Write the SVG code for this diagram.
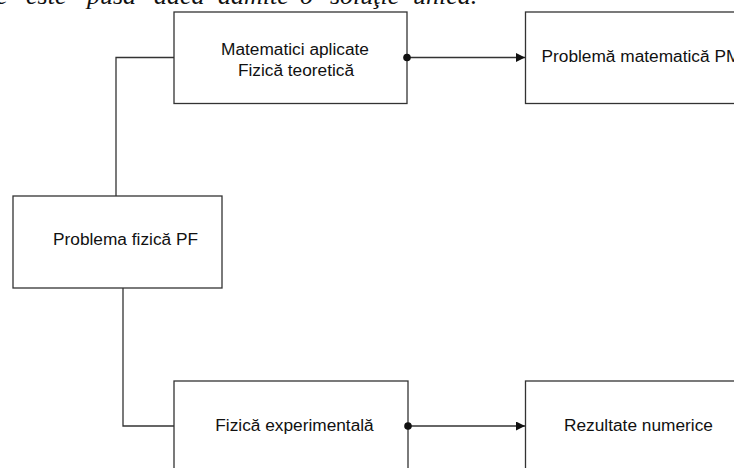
<svg xmlns="http://www.w3.org/2000/svg" width="734" height="468" viewBox="0 0 734 468">
<style>
.box{fill:#fff;stroke:#333;stroke-width:1.3}
.lbl{font-family:"Liberation Sans",Arial,sans-serif;font-size:17.3px;fill:#111}
.wire{fill:none;stroke:#333;stroke-width:1.3}
.top{font-family:"Liberation Serif","Times New Roman",serif;font-style:italic;font-size:26px;fill:#111}
.dot{fill:#111}
</style>
<defs>
<marker id="arr" viewBox="0 0 10 10" refX="10" refY="5" markerWidth="10" markerHeight="9" markerUnits="userSpaceOnUse" orient="auto">
<path d="M0,0 L10,5 L0,10 z" fill="#111"/>
</marker>
</defs>
<rect width="734" height="468" fill="#fff"/>
<text class="top" y="4"><tspan x="-4">e</tspan><tspan x="26">este</tspan><tspan x="87">pusă</tspan><tspan x="154">dacă</tspan><tspan x="218">admite</tspan><tspan x="300">o</tspan><tspan x="330">soluţie</tspan><tspan x="413">unică.</tspan></text>
<g id="connectors">
<polyline class="wire" points="174,57.5 116,57.5 116,196"/>
<polyline class="wire" points="123,288 123,426 174,426"/>
<line class="wire" x1="407" y1="57.5" x2="525" y2="57.5" marker-end="url(#arr)"/>
<line class="wire" x1="408" y1="426" x2="525" y2="426" marker-end="url(#arr)"/>
</g>
<g id="node-pf">
<rect class="box" x="13" y="196" width="209" height="92"/>
<text class="lbl" x="53" y="245">Problema fizică PF</text>
</g>
<g id="node-mat">
<rect class="box" x="174" y="12" width="233" height="91.5"/>
<text class="lbl" x="295" y="55" text-anchor="middle">Matematici aplicate</text>
<text class="lbl" x="296" y="76" text-anchor="middle">Fizică teoretică</text>
</g>
<g id="node-pm">
<rect class="box" x="525.5" y="12" width="240" height="91.5"/>
<text class="lbl" x="541.5" y="62">Problemă matematică PM</text>
</g>
<g id="node-exp">
<rect class="box" x="174" y="381" width="234" height="120"/>
<text class="lbl" x="294.5" y="431" text-anchor="middle">Fizică experimentală</text>
</g>
<g id="node-rez">
<rect class="box" x="525.5" y="381" width="240" height="120"/>
<text class="lbl" x="564" y="431">Rezultate numerice</text>
</g>
<g id="junctions">
<circle class="dot" cx="407" cy="57.5" r="3.8"/>
<circle class="dot" cx="408" cy="426" r="3.8"/>
</g>
</svg>
